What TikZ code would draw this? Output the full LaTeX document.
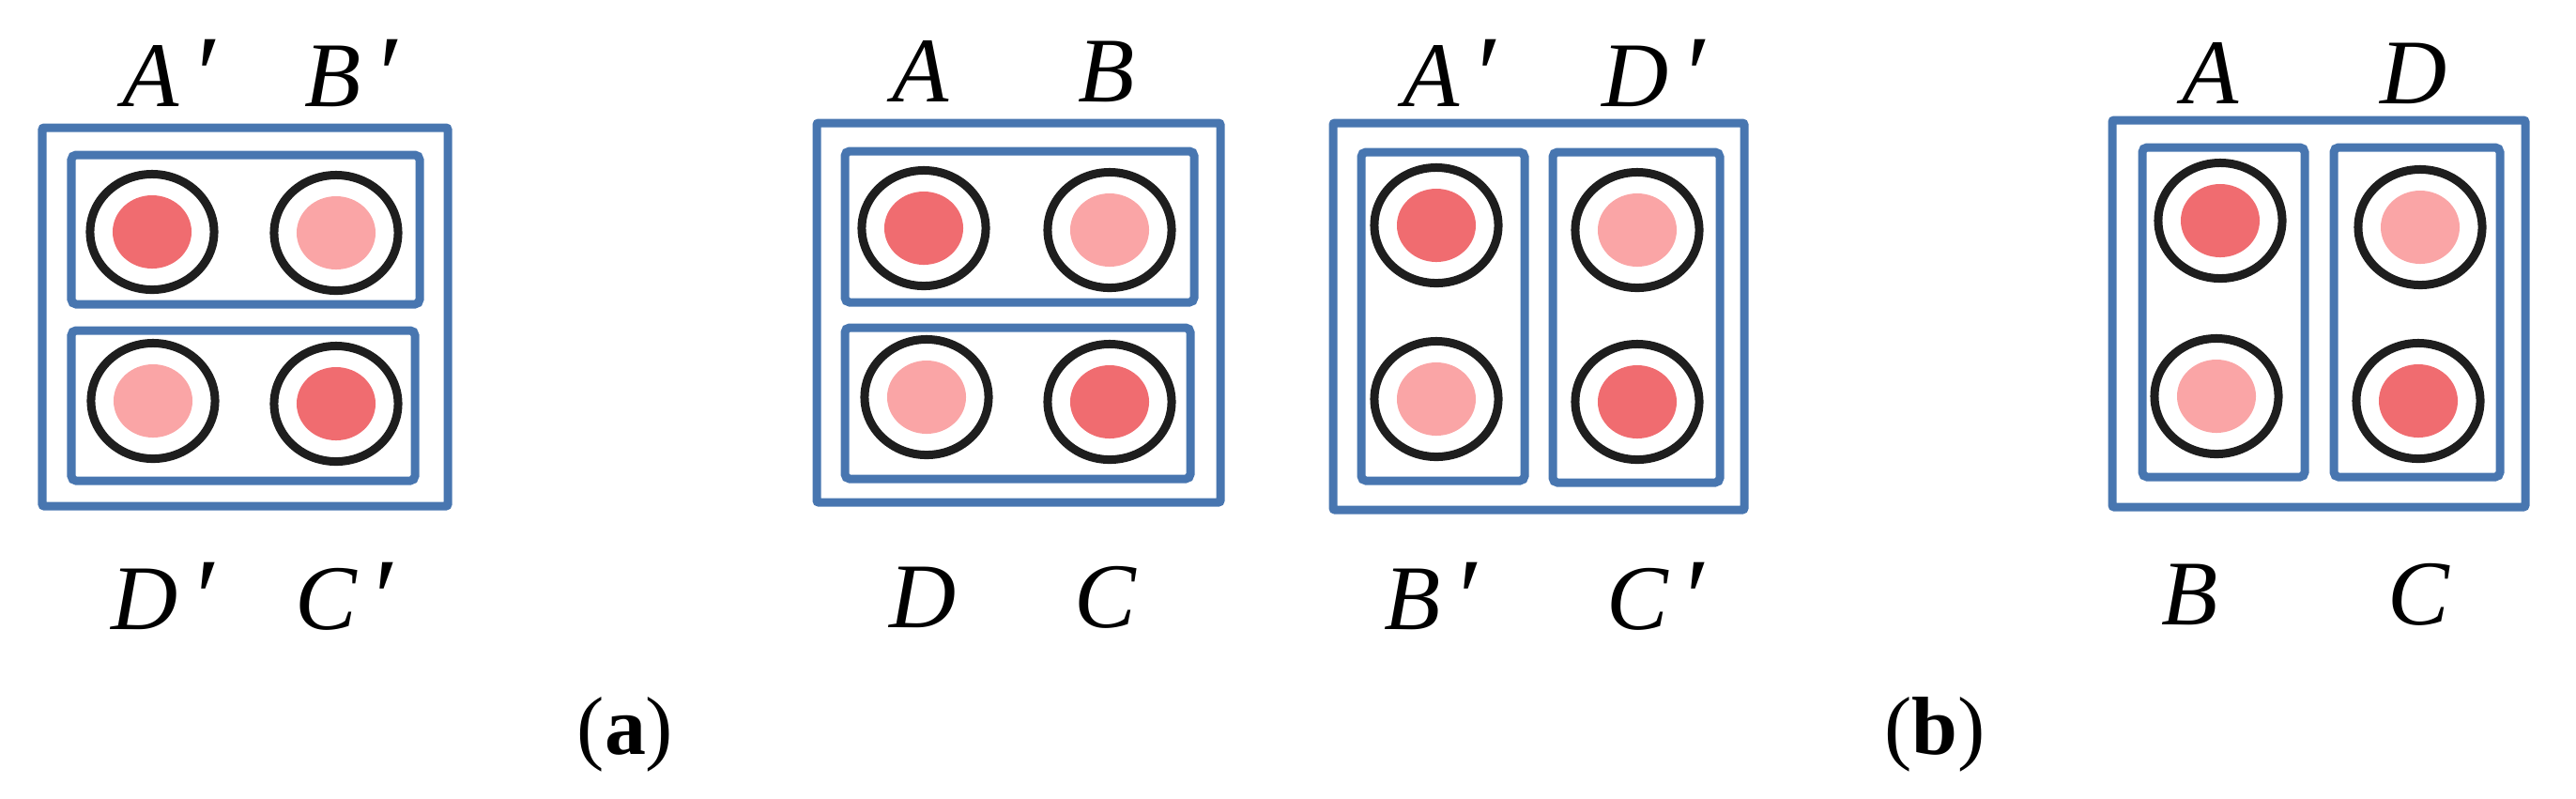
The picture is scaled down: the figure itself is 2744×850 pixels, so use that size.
\documentclass[tikz,border=0pt]{standalone}
\usepackage{fontspec}
\setmainfont{Liberation Serif}
\usetikzlibrary{shapes.geometric}
\definecolor{boxblue}{RGB}{72,118,176}
\definecolor{darkdot}{RGB}{240,108,112}
\definecolor{lightdot}{RGB}{250,165,166}
\definecolor{ringgray}{RGB}{30,30,30}
\tikzset{
  frame/.style={draw=boxblue, line width=0.09cm, rounded corners=0.05cm},
  outerframe/.style={draw=boxblue, line width=0.09cm, rounded corners=0.02cm},
  ringnode/.style={ellipse, draw=ringgray, line width=0.09cm, minimum width=1.32cm, minimum height=1.23cm, inner sep=0pt},
  dotdark/.style={ellipse, fill=darkdot, minimum width=0.84cm, minimum height=0.78cm, inner sep=0pt},
  dotlight/.style={ellipse, fill=lightdot, minimum width=0.84cm, minimum height=0.78cm, inner sep=0pt},
  lbl/.style={font=\fontsize{28}{30}\selectfont\itshape, anchor=base, inner sep=0pt},
  caplbl/.style={font=\fontsize{25}{28}\selectfont, inner sep=0pt}
}
\newcommand\ringdot[3]{\node[ringnode] (#1) at (#2) {}; \node[#3] (#1d) at (#2) {};}
\newcommand\pr{\kern0.12em\raisebox{-0.08em}{\fontsize{34}{34}\selectfont′}}
\begin{document}
\begin{tikzpicture}[x=0.01cm, y=-0.01cm]
\useasboundingbox (0,0) rectangle (2744,850);
% ---------- panel 1 ----------
\draw[outerframe] (45,136) rectangle (477,539);
\draw[frame] (76,165) rectangle (447,324);
\draw[frame] (76,352) rectangle (442,512);
\ringdot{p1a}{162,247}{dotdark}
\ringdot{p1b}{358,248}{dotlight}
\ringdot{p1d}{163,427}{dotlight}
\ringdot{p1c}{358,430}{dotdark}
\node[lbl] (l1a) at (180,113) {A\pr};
\node[lbl] (l1b) at (374,113) {B\pr};
\node[lbl] (l1d) at (173,670) {D\pr};
\node[lbl] (l1c) at (366,670) {C\pr};
% ---------- panel 2 ----------
\draw[outerframe] (870,131) rectangle (1300,535);
\draw[frame] (900,161) rectangle (1272,322);
\draw[frame] (900,349) rectangle (1268,510);
\ringdot{p2a}{984,243}{dotdark}
\ringdot{p2b}{1182,245}{dotlight}
\ringdot{p2d}{987,423}{dotlight}
\ringdot{p2c}{1182,428}{dotdark}
\node[lbl] (l2a) at (981,108) {A};
\node[lbl] (l2b) at (1179,108) {B};
\node[lbl] (l2d) at (983,668) {D};
\node[lbl] (l2c) at (1177,668) {C};
% ---------- panel 3 ----------
\draw[outerframe] (1420,131) rectangle (1858,543);
\draw[frame] (1450,162) rectangle (1624,512);
\draw[frame] (1654,162) rectangle (1832,514);
\ringdot{p3a}{1530,240}{dotdark}
\ringdot{p3d}{1744,245}{dotlight}
\ringdot{p3b}{1530,425}{dotlight}
\ringdot{p3c}{1744,428}{dotdark}
\node[lbl] (l3a) at (1544,113) {A\pr};
\node[lbl] (l3d) at (1761,113) {D\pr};
\node[lbl] (l3b) at (1524,670) {B\pr};
\node[lbl] (l3c) at (1763,670) {C\pr};
% ---------- panel 4 ----------
\draw[outerframe] (2250,128) rectangle (2690,540);
\draw[frame] (2282,157) rectangle (2455,508);
\draw[frame] (2486,157) rectangle (2663,508);
\ringdot{p4a}{2365,235}{dotdark}
\ringdot{p4d}{2578,242}{dotlight}
\ringdot{p4b}{2361,422}{dotlight}
\ringdot{p4c}{2576,427}{dotdark}
\node[lbl] (l4a) at (2355,110) {A};
\node[lbl] (l4d) at (2571,110) {D};
\node[lbl] (l4b) at (2333,665) {B};
\node[lbl] (l4c) at (2576,665) {C};
% ---------- captions ----------
\node[caplbl] (capa) at (666,782) {(\textbf{a})};
\node[caplbl] (capb) at (2061,782) {(\textbf{b})};
\end{tikzpicture}
\end{document}
